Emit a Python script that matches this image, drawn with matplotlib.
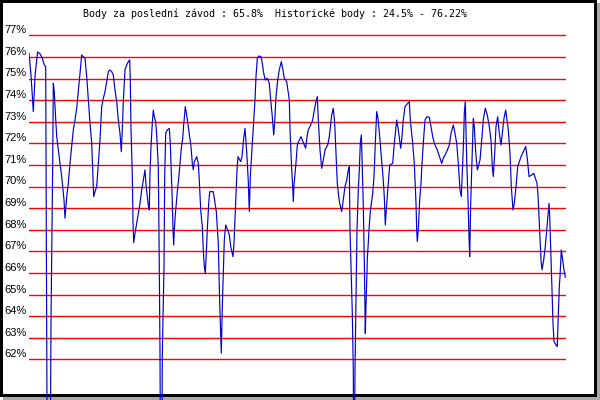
import matplotlib
matplotlib.use("Agg")
import matplotlib.pyplot as plt
from matplotlib.patches import Rectangle
from matplotlib import transforms

# ---- data ----
title = "Body za poslední závod : 65.8%  Historické body : 24.5% - 76.22%"
y_levels = list(range(62, 78))
y_labels = [f"{v}%" for v in y_levels]

race = [
    0.0, 2.0, 4.3, 6.0, 7.7, 8.7, 11.0, 13.3, 15.3, 16.7, 17.0, 17.7, 18.3, 21.0, 22.0, 23.7,
    24.3, 25.3, 26.0, 27.7, 29.3, 31.0, 32.7, 33.7, 35.0, 36.0, 37.7, 39.3, 41.0, 42.7, 44.3,
    46.0, 47.7, 49.3, 51.0, 52.7, 54.3, 56.0, 57.7, 59.3, 61.0, 62.7, 63.7, 64.7, 66.0, 67.7,
    69.3, 71.0, 72.7, 74.3, 76.0, 77.7, 79.3, 80.7, 82.7, 84.3, 86.0, 87.7, 89.3, 91.0, 92.3,
    93.3, 94.3, 96.0, 97.7, 99.3, 100.7, 101.3, 102.0, 103.3, 104.0, 104.7, 106.0, 107.7,
    109.3, 111.0, 112.7, 114.3, 116.0, 117.0, 118.3, 119.3, 120.3, 121.0, 122.0, 123.3, 124.3,
    125.3, 126.7, 128.0, 129.3, 130.3, 131.0, 131.7, 132.7, 133.3, 135.0, 135.7, 136.7, 138.3,
    140.3, 141.3, 142.3, 143.3, 144.0, 144.7, 145.3, 146.3, 147.3, 148.3, 149.7, 151.0, 152.3,
    153.7, 154.7, 156.3, 157.7, 159.3, 162.0, 163.3, 164.3, 165.3, 167.7, 169.3, 170.3, 171.7,
    173.3, 174.3, 175.3, 176.3, 177.3, 178.3, 179.7, 180.7, 184.3, 186.0, 187.3, 189.3, 190.7,
    191.7, 192.3, 193.3, 194.3, 195.3, 196.7, 198.7, 200.3, 201.7, 204.0, 205.0, 206.0, 207.0,
    208.0, 209.0, 211.7, 213.0, 214.7, 216.0, 217.0, 218.0, 219.3, 220.3, 221.3, 223.3, 224.7,
    226.0, 227.0, 228.3, 230.0, 232.0, 233.3, 234.7, 236.3, 238.3, 240.3, 241.7, 243.3, 244.7,
    245.7, 247.0, 248.7, 250.3, 252.3, 253.7, 255.3, 257.7, 260.3, 261.0, 262.7, 263.7, 264.3,
    265.0, 266.7, 268.3, 270.0, 272.0, 275.3, 276.7, 278.0, 279.3, 281.7, 283.7, 285.3, 287.0,
    288.3, 289.3, 291.0, 292.7, 294.3, 296.0, 298.7, 300.3, 302.7, 304.3, 305.7, 307.0, 308.3,
    309.3, 310.7, 312.7, 314.3, 316.0, 317.7, 319.3, 320.3, 321.0, 321.7, 323.3, 324.3, 325.0,
    326.0, 327.0, 328.0, 329.3, 330.3, 331.3, 332.3, 333.0, 334.3, 335.3, 336.3, 336.7, 338.3,
    340.0, 341.3, 343.7, 345.0, 346.3, 347.7, 349.0, 350.7, 352.3, 354.0, 355.3, 356.3, 357.3,
    359.0, 360.7, 363.7, 365.3, 367.7, 369.3, 371.7, 372.7, 374.3, 376.0, 378.7, 380.3, 381.3,
    383.7, 385.3, 387.0, 387.7, 388.3, 389.3, 390.7, 392.0, 393.0, 394.3, 396.0, 398.0, 400.3,
    402.0, 403.7, 405.3, 408.3, 411.0, 412.7, 414.3, 417.7, 420.3, 422.0, 424.3, 426.0, 427.7,
    429.3, 431.0, 432.3, 433.7, 434.7, 435.3, 436.3, 437.7, 439.0, 440.0, 440.7, 441.7, 442.7,
    443.7, 444.3, 445.3, 446.7, 448.3, 449.7, 451.0, 452.7, 454.3, 456.3, 458.3, 460.3, 462.0,
    463.3, 464.3, 465.7, 467.0, 468.7, 470.3, 472.0, 473.3, 475.0, 476.7, 478.0, 479.3, 481.0,
    482.3, 484.0, 485.3, 487.0, 488.7, 490.3, 492.0, 494.3, 496.7, 498.3, 500.0, 502.7, 504.7,
    506.3, 508.0, 509.0, 510.0, 511.0, 512.0, 513.0, 514.7, 516.3, 518.3, 520.0, 520.7, 522.0,
    523.0, 524.0, 525.0, 527.0, 528.3, 529.0, 530.3, 531.0, 532.3, 533.7, 535.0, 536.3,
]

points = [
    76.17, 75.16, 73.47, 75.09, 75.86, 76.23, 76.14, 75.94, 75.63, 75.55, 71.69, 63.98, 55.0, 55.0, 63.80, 71.07,
    74.78, 74.39, 73.70, 72.31, 71.69, 71.07, 70.46, 69.99, 69.38, 68.53, 69.53, 70.15, 71.07, 71.85, 72.62,
    73.08, 73.62, 74.39, 75.24, 76.09, 76.01, 75.94, 75.09, 74.01, 72.93, 72.00, 70.77, 69.53, 69.76, 69.99,
    71.07, 72.15, 73.70, 74.08, 74.39, 74.85, 75.32, 75.40, 75.32, 75.16, 74.47, 73.93, 73.08, 72.46, 71.61,
    72.62, 73.93, 75.40, 75.63, 75.78, 75.86, 74.93, 72.69, 70.53, 68.37, 67.40, 67.83, 68.30,
    68.76, 69.22, 69.84, 70.30, 70.77, 70.07, 69.53, 69.14, 68.91, 70.61, 71.85, 72.93, 73.54,
    73.23, 73.00, 72.15, 70.92, 66.29, 62.20, 55.0, 55.0, 62.20, 66.29, 70.46, 72.46, 72.62,
    72.69, 72.00, 70.69, 69.30, 67.99, 67.29, 67.99, 68.68, 69.22, 69.76, 70.38, 71.07, 71.77,
    72.23, 72.85, 73.70, 73.31, 72.77, 71.85, 71.07, 70.77, 71.15, 71.38, 71.07, 70.30, 68.91,
    68.14, 67.06, 66.29, 65.98, 66.91, 67.99, 69.22, 69.76, 69.76, 69.22, 68.84, 67.37, 64.59,
    63.05, 62.28, 64.44, 65.98, 67.52, 68.22, 67.99, 67.76, 67.22, 66.75, 67.37, 68.53, 69.69,
    70.77, 71.38, 71.15, 71.38, 72.23, 72.69, 72.08, 71.38, 70.22, 68.84, 70.46, 72.00, 73.00,
    74.01, 75.09, 75.94, 76.04, 76.01, 75.70, 75.24, 74.93, 75.01, 74.78, 74.01, 73.23, 72.39,
    73.00, 74.16, 74.93, 75.40, 75.78, 75.47, 75.01, 74.85, 74.01, 72.69, 70.77, 69.99, 69.30,
    70.07, 70.92, 71.92, 72.12, 72.31, 71.92, 71.77, 72.31, 72.62, 72.85, 73.08, 73.54, 73.93,
    74.16, 73.08, 71.69, 70.84, 71.23, 71.69, 71.92, 72.31, 73.31, 73.62, 72.93, 71.54, 70.15,
    69.69, 69.22, 68.84, 69.38, 69.99, 70.30, 70.77, 70.92, 67.99, 66.83, 64.13, 61.51, 55.0,
    61.51, 64.90, 67.99, 69.84, 70.77, 72.00, 72.39, 71.38, 69.07, 66.60, 63.20, 63.98, 66.60,
    67.99, 68.84, 69.69, 70.46, 72.00, 73.47, 73.16, 72.31, 71.38, 70.46, 69.53, 68.22, 68.91,
    69.99, 70.99, 71.07, 72.00, 73.08, 72.62, 71.77, 72.15, 73.08, 73.70, 73.85, 73.93, 73.08,
    72.00, 71.07, 69.22, 67.99, 67.45, 67.99, 69.38, 70.15, 71.07, 72.00, 73.08, 73.23, 73.20,
    72.77, 72.31, 72.00, 71.69, 71.31, 71.07, 71.31, 71.61, 71.92, 72.46, 72.85, 72.46, 72.00,
    71.07, 69.84, 69.53, 71.07, 72.31, 73.39, 73.93, 71.23, 69.38, 67.68, 66.75, 69.22, 70.77,
    72.31, 73.16, 72.77, 71.61, 70.77, 70.99, 71.23, 72.15, 73.08, 73.62, 73.31, 72.77, 72.15,
    70.92, 70.46, 71.54, 72.77, 73.23, 72.46, 71.92, 72.46, 73.16, 73.54, 73.08, 72.62, 71.54,
    69.99, 68.91, 69.22, 69.99, 70.92, 71.15, 71.38, 71.61, 71.85, 71.31, 70.46, 70.53, 70.61,
    70.38, 70.15, 69.61, 68.61, 67.60, 66.60, 66.14, 66.60, 67.22, 68.30, 69.22, 68.61, 66.75,
    65.21, 63.67, 62.82, 62.66, 62.59, 63.67, 65.36, 65.83, 67.06, 66.60, 66.14, 65.80,
]

# ---- figure ----
W, H = 600, 400
fig = plt.figure(figsize=(W / 100, H / 100), dpi=100)
fig.patch.set_facecolor("white")

# frame with shadow (in pixel space)
bg = fig.add_axes([0, 0, 1, 1])
bg.set_xlim(0, W)
bg.set_ylim(H, 0)
bg.axis("off")
bg.add_patch(Rectangle((597, 3), 3, 397, facecolor="#a8a8a8", edgecolor="none"))
bg.add_patch(Rectangle((3, 397), 597, 3, facecolor="#a8a8a8", edgecolor="none"))
bg.add_patch(Rectangle((0, 0), 597, 397, facecolor="black", edgecolor="none"))
bg.add_patch(Rectangle((3, 3), 591, 391, facecolor="white", edgecolor="none"))

# plot area
left_px, right_px, top_px = 29, 566, 3
ax = fig.add_axes([left_px / W, 0, (right_px - left_px) / W, (H - top_px) / H])
ax.set_facecolor("none")
ax.axis("off")
ax.set_xlim(0, right_px - left_px)
px_per_pct = 21.6
y77_px = 35.3
ax.set_ylim(77 - (H - y77_px) / px_per_pct, 77 + (y77_px - top_px) / px_per_pct)

for v in y_levels:
    ax.axhline(v, color="#ff0000", lw=1.0, snap=True, zorder=1)

ax.plot(race, points, color="#0000d0", lw=0.85, zorder=2)

trans = transforms.offset_copy(ax.get_yaxis_transform(), fig=fig, x=-2.5, y=2, units="dots")
for v, lab in zip(y_levels, y_labels):
    ax.text(0, v, lab, transform=trans, ha="right", va="baseline",
            fontsize=8, family="Liberation Sans", color="black", clip_on=False)

fig.text(83 / W, 1 - 17 / H, title, ha="left", va="baseline",
         fontsize=7.2, family="DejaVu Sans Mono", color="black")

fig.savefig("out.png", dpi=100, facecolor="white")
